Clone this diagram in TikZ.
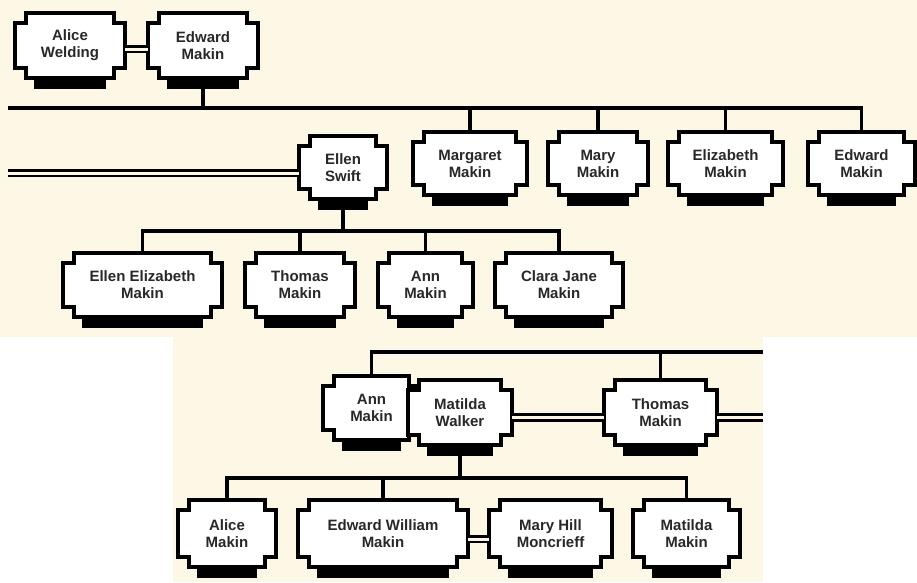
\documentclass[tikz,border=0pt]{standalone}
\usepackage{fontspec}
\setsansfont{Liberation Sans}
\usetikzlibrary{calc,backgrounds}
\definecolor{cream}{RGB}{253,248,229}
\definecolor{ink}{RGB}{40,40,40}
\begin{document}
\begin{tikzpicture}[x=1pt,y=-1pt,
  person/.style={inner sep=0pt,outer sep=0pt,align=center,text=ink,
    font=\sffamily\bfseries\fontsize{15}{17}\selectfont,minimum height=64},
  line/.style={line width=3.2pt},
  wed/.style={line width=2.8pt,double=cream,double distance=3pt},
  outline/.style={draw,fill=white,line width=3.2pt,line join=miter}]
\useasboundingbox (0,0) rectangle (917,582);

% parents
\node[person,minimum width=110,minimum height=65] (aliceW) at (70,45.5) {Alice\\Welding};
\node[person,minimum width=110,minimum height=65] (edwardM) at (203,45.5) {Edward\\Makin};

% their children
\node[person,minimum width=88,minimum height=63] (ellenS) at (343,167.5) {Ellen\\Swift};
\node[person,minimum width=114,minimum height=63] (margaretM) at (470,163.5) {Margaret\\Makin};
\node[person,minimum width=100,minimum height=63] (maryM) at (598,163.5) {Mary\\Makin};
\node[person,minimum width=115,minimum height=63] (elizabethM) at (725.5,163.5) {Elizabeth\\Makin};
\node[person,minimum width=107,minimum height=63] (edwardMM) at (861.5,163.5) {Edward\\Makin};

% Ellen's children
\node[person,minimum width=159] (ellenEM) at (142.5,285) {Ellen Elizabeth\\Makin};
\node[person,minimum width=110] (thomasM) at (300,285) {Thomas\\Makin};
\node[person,minimum width=95] (annM) at (425.5,285) {Ann\\Makin};
\node[person,minimum width=128] (claraM) at (559,285) {Clara Jane\\Makin};

% lower part
\node[person,minimum width=97] (annMM) at (371.5,408) {Ann\\Makin};
\node[person,minimum width=104,minimum height=65] (matildaW) at (460,412.5) {Matilda\\Walker};
\node[person,minimum width=113,minimum height=65] (thomasMM) at (660.5,412.5) {Thomas\\Makin};

\node[person,minimum width=98,minimum height=67] (aliceM) at (227,533.5) {Alice\\Makin};
\node[person,minimum width=170,minimum height=67] (edwardWM) at (383,533.5) {Edward William\\Makin};
\node[person,minimum width=123,minimum height=67] (maryHM) at (550.5,533.5) {Mary Hill\\Moncrieff};
\node[person,minimum width=107,minimum height=67] (matildaM) at (686.5,533.5) {Matilda\\Makin};

\coordinate (barA) at (8,108);
\coordinate (wedL) at (8,173);
\coordinate (barB) at (343,231);
\coordinate (barC) at (763,352);
\coordinate (wedR) at (763,417.5);
\coordinate (barD) at (460,478);

% marriages
\draw[wed] ([yshift=-3.5pt]aliceW.east) -- ([yshift=-3.5pt]edwardM.west);
\draw[wed] (wedL) -- ([yshift=-5.5pt]ellenS.west);
\draw[wed] ([yshift=-5pt]matildaW.east) -- ([yshift=-5pt]thomasMM.west);
\draw[wed] ([yshift=-5pt]thomasMM.east) -- (wedR);
\draw[wed] ([yshift=-5.5pt]edwardWM.east) -- ([yshift=-5.5pt]maryHM.west);

% descent lines
\draw[line] ([yshift=-10pt]edwardM.south) -- (edwardM |- barA);
\draw[line] (barA) -| (edwardMM.north);
\foreach \c in {margaretM,maryM,elizabethM}
  \draw[line] (\c.north) -- (\c |- barA);

\draw[line] ([yshift=-9pt]ellenS.south) -- (barB);
\draw[line] (ellenEM.north) |- (barB) -| (claraM.north);
\foreach \c in {thomasM,annM}
  \draw[line] (\c.north) -- (\c |- barB);

\draw[line] (annMM.north) |- (barC);
\draw[line] (thomasMM.north) -- (thomasMM |- barC);

\draw[line] ([yshift=-10pt]matildaW.south) -- (barD);
\draw[line] (aliceM.north) |- (barD) -| (matildaM.north);
\draw[line] (edwardWM.north) -- (edwardWM |- barD);

% boxes with shadows
\begin{scope}[on background layer]
\fill[white] (0,0) rectangle (917,582);
\fill[cream] (0,0) rectangle (917,337);
\fill[cream] (173,337) rectangle (763,582);
\foreach \p in {aliceW,edwardM,ellenS,margaretM,maryM,elizabethM,edwardMM,
    ellenEM,thomasM,annM,claraM,annMM,matildaW,thomasMM,
    aliceM,edwardWM,maryHM,matildaM} {
  \fill ($(\p.south west)+(19,0)$) rectangle ($(\p.south east)+(-19,11)$);
  \draw[outline] ($(\p.north west)+(11,0)$) -- ($(\p.north east)+(-11,0)$)
    -- ++(0,10) -- ++(11,0) -- ($(\p.south east)+(0,-10)$) -- ++(-11,0)
    -- ++(0,10) -- ($(\p.south west)+(11,0)$) -- ++(0,-10) -- ++(-11,0)
    -- ($(\p.north west)+(0,10)$) -- ++(11,0) -- cycle;
}
\end{scope}
\end{tikzpicture}
\end{document}
